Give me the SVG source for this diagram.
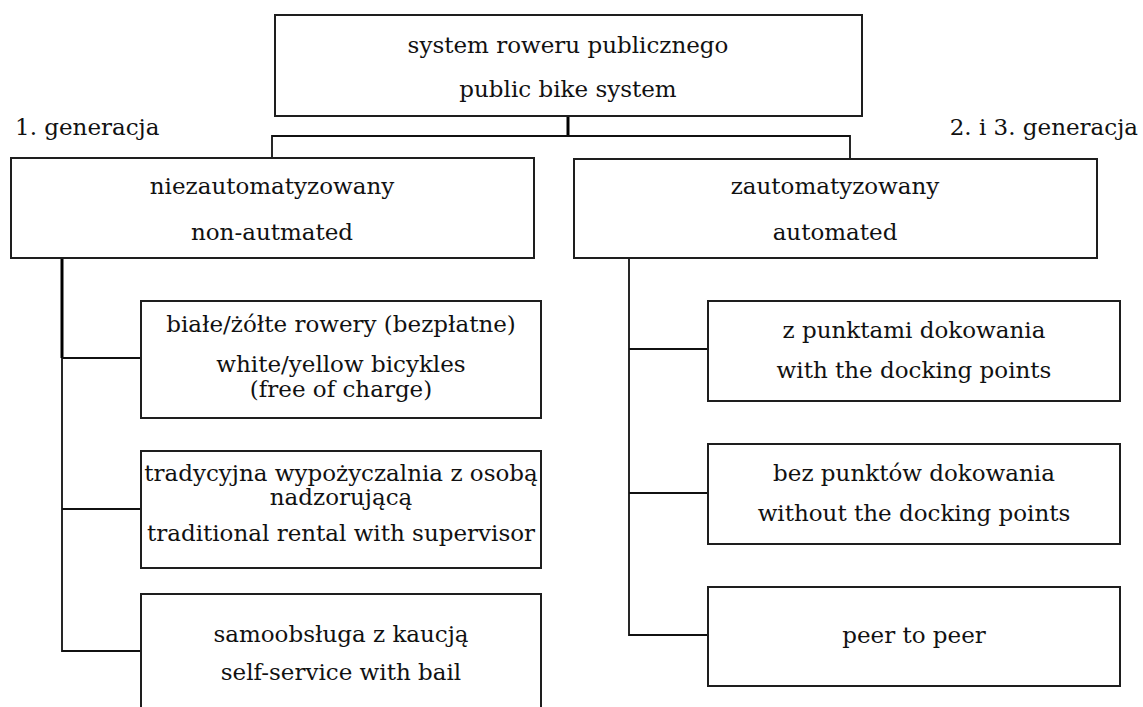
<svg xmlns="http://www.w3.org/2000/svg" width="1143" height="707" viewBox="0 0 1143 707">
<style>
.box{fill:#fff;stroke:#1e1e1e;stroke-width:2}
.ln{fill:none;stroke:#111;stroke-width:1.8}
.thick{fill:none;stroke:#000;stroke-width:3}
text{font-family:"DejaVu Serif","Liberation Serif",serif;font-size:23px;fill:#111;text-anchor:middle}
</style>
<rect width="1143" height="707" fill="#fff"/>
<g id="connectors">
<line class="thick" x1="568" y1="116" x2="568" y2="136"/>
<polyline class="ln" points="272,158 272,136 850,136 850,158"/>
<line class="thick" x1="62" y1="258" x2="62" y2="358"/>
<polyline class="ln" points="62,358 62,651 141,651"/>
<line class="ln" x1="62" y1="358" x2="141" y2="358"/>
<line class="ln" x1="62" y1="509" x2="141" y2="509"/>
<polyline class="ln" points="629,258 629,635 708,635"/>
<line class="ln" x1="629" y1="349" x2="708" y2="349"/>
<line class="ln" x1="629" y1="493" x2="708" y2="493"/>
</g>
<g id="labels">
<text x="15" y="135" style="text-anchor:start">1. generacja</text>
<text x="1138" y="135" style="text-anchor:end">2. i 3. generacja</text>
</g>
<g id="root">
<rect class="box" x="275" y="15" width="587" height="101"/>
<text x="568" y="53">system roweru publicznego</text>
<text x="568" y="97">public bike system</text>
</g>
<g id="non-automated">
<rect class="box" x="11" y="158" width="523" height="100"/>
<text x="272" y="194">niezautomatyzowany</text>
<text x="272" y="240">non-autmated</text>
</g>
<g id="automated">
<rect class="box" x="574" y="159" width="523" height="99"/>
<text x="835" y="194">zautomatyzowany</text>
<text x="835" y="240">automated</text>
</g>
<g id="white-yellow">
<rect class="box" x="141" y="301" width="400" height="117"/>
<text x="341" y="332">białe/żółte rowery (bezpłatne)</text>
<text x="341" y="372">white/yellow bicykles</text>
<text x="341" y="397">(free of charge)</text>
</g>
<g id="traditional">
<rect class="box" x="141" y="451" width="400" height="117"/>
<text x="341" y="481">tradycyjna wypożyczalnia z osobą</text>
<text x="341" y="505">nadzorującą</text>
<text x="341" y="541">traditional rental with supervisor</text>
</g>
<g id="self-service">
<rect class="box" x="141" y="594" width="400" height="130"/>
<text x="341" y="642">samoobsługa z kaucją</text>
<text x="341" y="680">self-service with bail</text>
</g>
<g id="docking">
<rect class="box" x="708" y="301" width="412" height="100"/>
<text x="914" y="338">z punktami dokowania</text>
<text x="914" y="378">with the docking points</text>
</g>
<g id="dockless">
<rect class="box" x="708" y="444" width="412" height="100"/>
<text x="914" y="481">bez punktów dokowania</text>
<text x="914" y="521">without the docking points</text>
</g>
<g id="p2p">
<rect class="box" x="708" y="587" width="412" height="99"/>
<text x="914" y="643">peer to peer</text>
</g>
</svg>
